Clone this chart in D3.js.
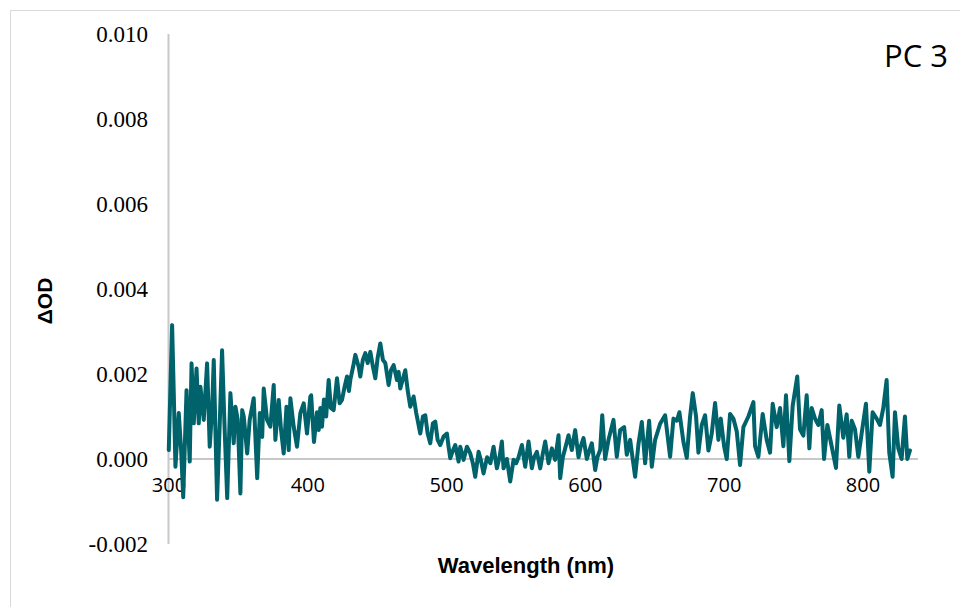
<!DOCTYPE html>
<html>
<head>
<meta charset="utf-8">
<script src="https://cdn.jsdelivr.net/npm/d3@7"></script>
<style>
  html, body { margin: 0; padding: 0; background: #ffffff; }
  svg { display: block; }
</style>
</head>
<body>
<div id="chart"></div>
<script>
// ---- data ----
const wavelength = [
  300.2,302.6,303.8,305,307.4,309.1,310.6,313,315.3,316.6,318.2,320.2,321.8,323,325.4,327.8,329.7,331.4,332.6,335,
  337,338.6,340.3,342.3,344.6,347,348.2,349.9,351.8,353.1,354.2,356.7,358.5,361.4,363.9,365.8,367.5,368.6,371,373.4,
  375.8,377,379.4,381.1,383,385,386.6,387.8,390.2,392.6,395,397.4,399.8,402.2,402.8,404.8,407,408.2,409.4,410.6,
  412,413.6,415.4,417,419,421.4,423.3,425,426.9,428.6,430,431,433,434.6,437,438.2,440,441.8,443.5,445.4,
  447.3,449,450.7,452.6,454.5,456.2,458.6,460.3,462.2,464.6,465.8,467,470.6,472.3,474.2,476.6,478.5,481.4,483.3,485,
  486.7,488.6,490.5,492.2,493.9,495.8,498.2,500.6,501.8,503,504.9,506.6,509,510.2,512.6,515,517.4,519.3,521,523.4,
  525,527,529.5,531.9,534.2,536.6,538.5,540.2,541.4,543.8,546.2,548.6,550.5,552.2,554.6,557,559.4,561.8,563.4,565.4,
  567.8,569.7,571.4,573.8,576.2,578.6,581,582.2,584.1,585.8,588.2,590.6,593,595.4,597,599,601.4,603.3,605,607.4,
  609,611,612.5,614.6,617,620.6,623,625.4,628.3,630.2,632.6,636.2,638.6,641,643.4,646.3,648.2,650.6,654.2,657.8,
  661.4,663.8,666.2,668.1,671,673.4,675.8,677.7,680.1,681.8,684.2,686.6,689,691.4,693.8,696.2,697.9,700.3,702.2,704.6,
  707,709.4,711.8,714.2,717.8,721.4,722.6,725,728.1,731,733.4,735.3,738.2,740.6,743,744.9,747.3,749.7,753,755,
  757.4,759.8,761.7,763.4,765.8,768.2,770.6,772.3,774.7,777.8,780.9,783.3,786.2,788.6,790.5,792.2,794.6,797,799.4,802.5,
  804.9,807.3,810.2,812.6,815,817.4,819.3,821.7,823.4,825.8,828.2,830.6,832.3,834.2
];
// ΔOD in units of 1e-3
const deltaOD_milli = [
  0.21,3.15,1.55,-0.18,1.08,0.21,-0.9,1.62,-0.06,2.25,0.84,2.13,0.84,1.7,0.92,2.25,0.29,1.15,2.33,-0.96,
  0.92,2.56,0.84,-0.92,1.55,0.37,1.23,0.92,-0.81,1.15,1.0,0.13,0.92,1.43,-0.45,1.08,0.52,1.66,0.92,0.76,
  1.74,0.45,1.39,0.68,0.13,1.23,0.21,1.43,0.76,0.29,1.08,1.31,0.6,1.47,1.5,0.4,1.1,0.68,1.2,0.76,
  1.4,1.0,1.86,1.2,1.15,1.9,1.31,1.39,1.7,1.94,1.6,1.86,2.17,2.45,2.17,1.94,2.33,2.49,2.26,2.52,
  2.17,1.9,2.38,2.72,2.33,2.26,1.74,2.09,2.21,1.86,2.05,1.66,2.09,1.62,1.23,1.47,1.08,0.6,1.0,1.03,
  0.6,0.37,0.84,0.88,0.45,0.33,0.53,0.6,0.29,0.02,0.2,0.33,-0.06,0.29,-0.02,0.29,0.13,-0.1,-0.42,0.17,
  -0.02,-0.34,0.04,-0.1,0.29,-0.22,0.04,0.41,-0.22,0.0,-0.53,-0.02,-0.1,0.04,0.33,-0.18,0.41,-0.22,0.04,0.17,
  -0.22,0.13,0.41,-0.1,0.25,-0.02,0.56,-0.45,0.04,0.25,0.56,0.21,0.68,0.04,0.29,0.49,0.0,0.21,0.37,-0.26,
  0.04,0.21,1.03,0.0,0.45,0.92,0.05,0.68,0.75,0.1,0.45,-0.42,0.35,0.87,-0.1,0.9,-0.18,0.45,0.83,1.03,
  0.05,0.95,0.9,1.1,0.4,0.03,1.0,1.55,1.0,0.15,0.8,1.03,0.2,0.6,1.32,0.45,0.95,0.3,0.0,1.06,
  0.95,0.65,-0.14,0.75,1.0,1.34,0.3,0.05,1.06,0.45,0.15,1.3,0.75,1.2,0.3,1.5,-0.05,1.25,1.94,0.7,
  0.55,1.5,0.25,1.2,0.95,0.8,1.15,0.0,0.8,0.3,-0.21,1.26,0.5,1.05,0.05,0.9,0.7,0.05,0.6,1.3,
  -0.3,1.1,0.95,0.8,1.2,1.86,0.15,-0.42,1.1,0.25,0.0,1.0,0.0,0.2
];
const yTicks = [-0.002, 0, 0.002, 0.004, 0.006, 0.008, 0.010];
const yTickLabels = ["-0.002", "0.000", "0.002", "0.004", "0.006", "0.008", "0.010"];
const xTicks = [300, 400, 500, 600, 700, 800];
const xTitle = "Wavelength (nm)";
const yTitle = "ΔOD";
const panelLabel = "PC 3";

const data = wavelength.map((w, i) => ({ x: w, y: deltaOD_milli[i] / 1000 }));

// ---- layout ----
const W = 960, H = 607;
const svg = d3.select("#chart").append("svg").attr("width", W).attr("height", H);

// chart border (only top & left are visible in the frame)
svg.append("rect")
  .attr("x", 10.5).attr("y", 10.5).attr("width", W + 20).attr("height", H + 20)
  .attr("fill", "none").attr("stroke", "#d9d9d9").attr("stroke-width", 1);

const x = d3.scaleLinear().domain([300, 840]).range([168.5, 918]);
const y = d3.scaleLinear().domain([-0.002, 0.010]).range([544, 34]);

// y axis (labels only + vertical line)
const yAxis = d3.axisLeft(y).tickValues(yTicks)
  .tickFormat((d, i) => yTickLabels[i]).tickSize(0).tickPadding(0);
const gy = svg.append("g").attr("transform", "translate(148,0)").call(yAxis);
gy.select(".domain").remove();
gy.selectAll("text")
  .attr("font-family", "'Liberation Serif', 'Times New Roman', serif")
  .attr("font-size", 23).attr("fill", "#000").attr("dy", "0.32em");

svg.append("line")
  .attr("x1", x(300)).attr("x2", x(300)).attr("y1", y(0.010)).attr("y2", y(-0.002))
  .attr("stroke", "#c8c8c8").attr("stroke-width", 2);

// x axis at y = 0
svg.append("line")
  .attr("x1", x(300)).attr("x2", x(840)).attr("y1", y(0)).attr("y2", y(0))
  .attr("stroke", "#c8c8c8").attr("stroke-width", 2);

const xAxis = d3.axisBottom(x).tickValues(xTicks).tickFormat(d3.format("d")).tickSize(0).tickPadding(0);
const gx = svg.append("g").attr("transform", "translate(0,478)").call(xAxis);
gx.select(".domain").remove();
gx.selectAll("text")
  .attr("font-family", "'Open Sans', sans-serif")
  .attr("font-size", 20).attr("fill", "#000").attr("dy", "0.71em");

// data line
const line = d3.line().x(d => x(d.x)).y(d => y(d.y));
svg.append("path").datum(data)
  .attr("d", line)
  .attr("fill", "none")
  .attr("stroke", "#00636b")
  .attr("stroke-width", 4)
  .attr("stroke-linejoin", "round")
  .attr("stroke-linecap", "round");

// titles
svg.append("text")
  .attr("x", 526).attr("y", 573)
  .attr("text-anchor", "middle")
  .attr("font-family", "'Liberation Sans', Arial, sans-serif")
  .attr("font-weight", "bold").attr("font-size", 22)
  .text(xTitle);

svg.append("text")
  .attr("transform", "translate(52,301) rotate(-90)")
  .attr("text-anchor", "middle")
  .attr("font-family", "'Liberation Sans', Arial, sans-serif")
  .attr("font-weight", "bold").attr("font-size", 21)
  .text(yTitle);

svg.append("text")
  .attr("x", 948).attr("y", 67)
  .attr("text-anchor", "end")
  .attr("font-family", "'Open Sans', sans-serif")
  .attr("font-size", 31).attr("fill", "#000")
  .text(panelLabel);
</script>
</body>
</html>
